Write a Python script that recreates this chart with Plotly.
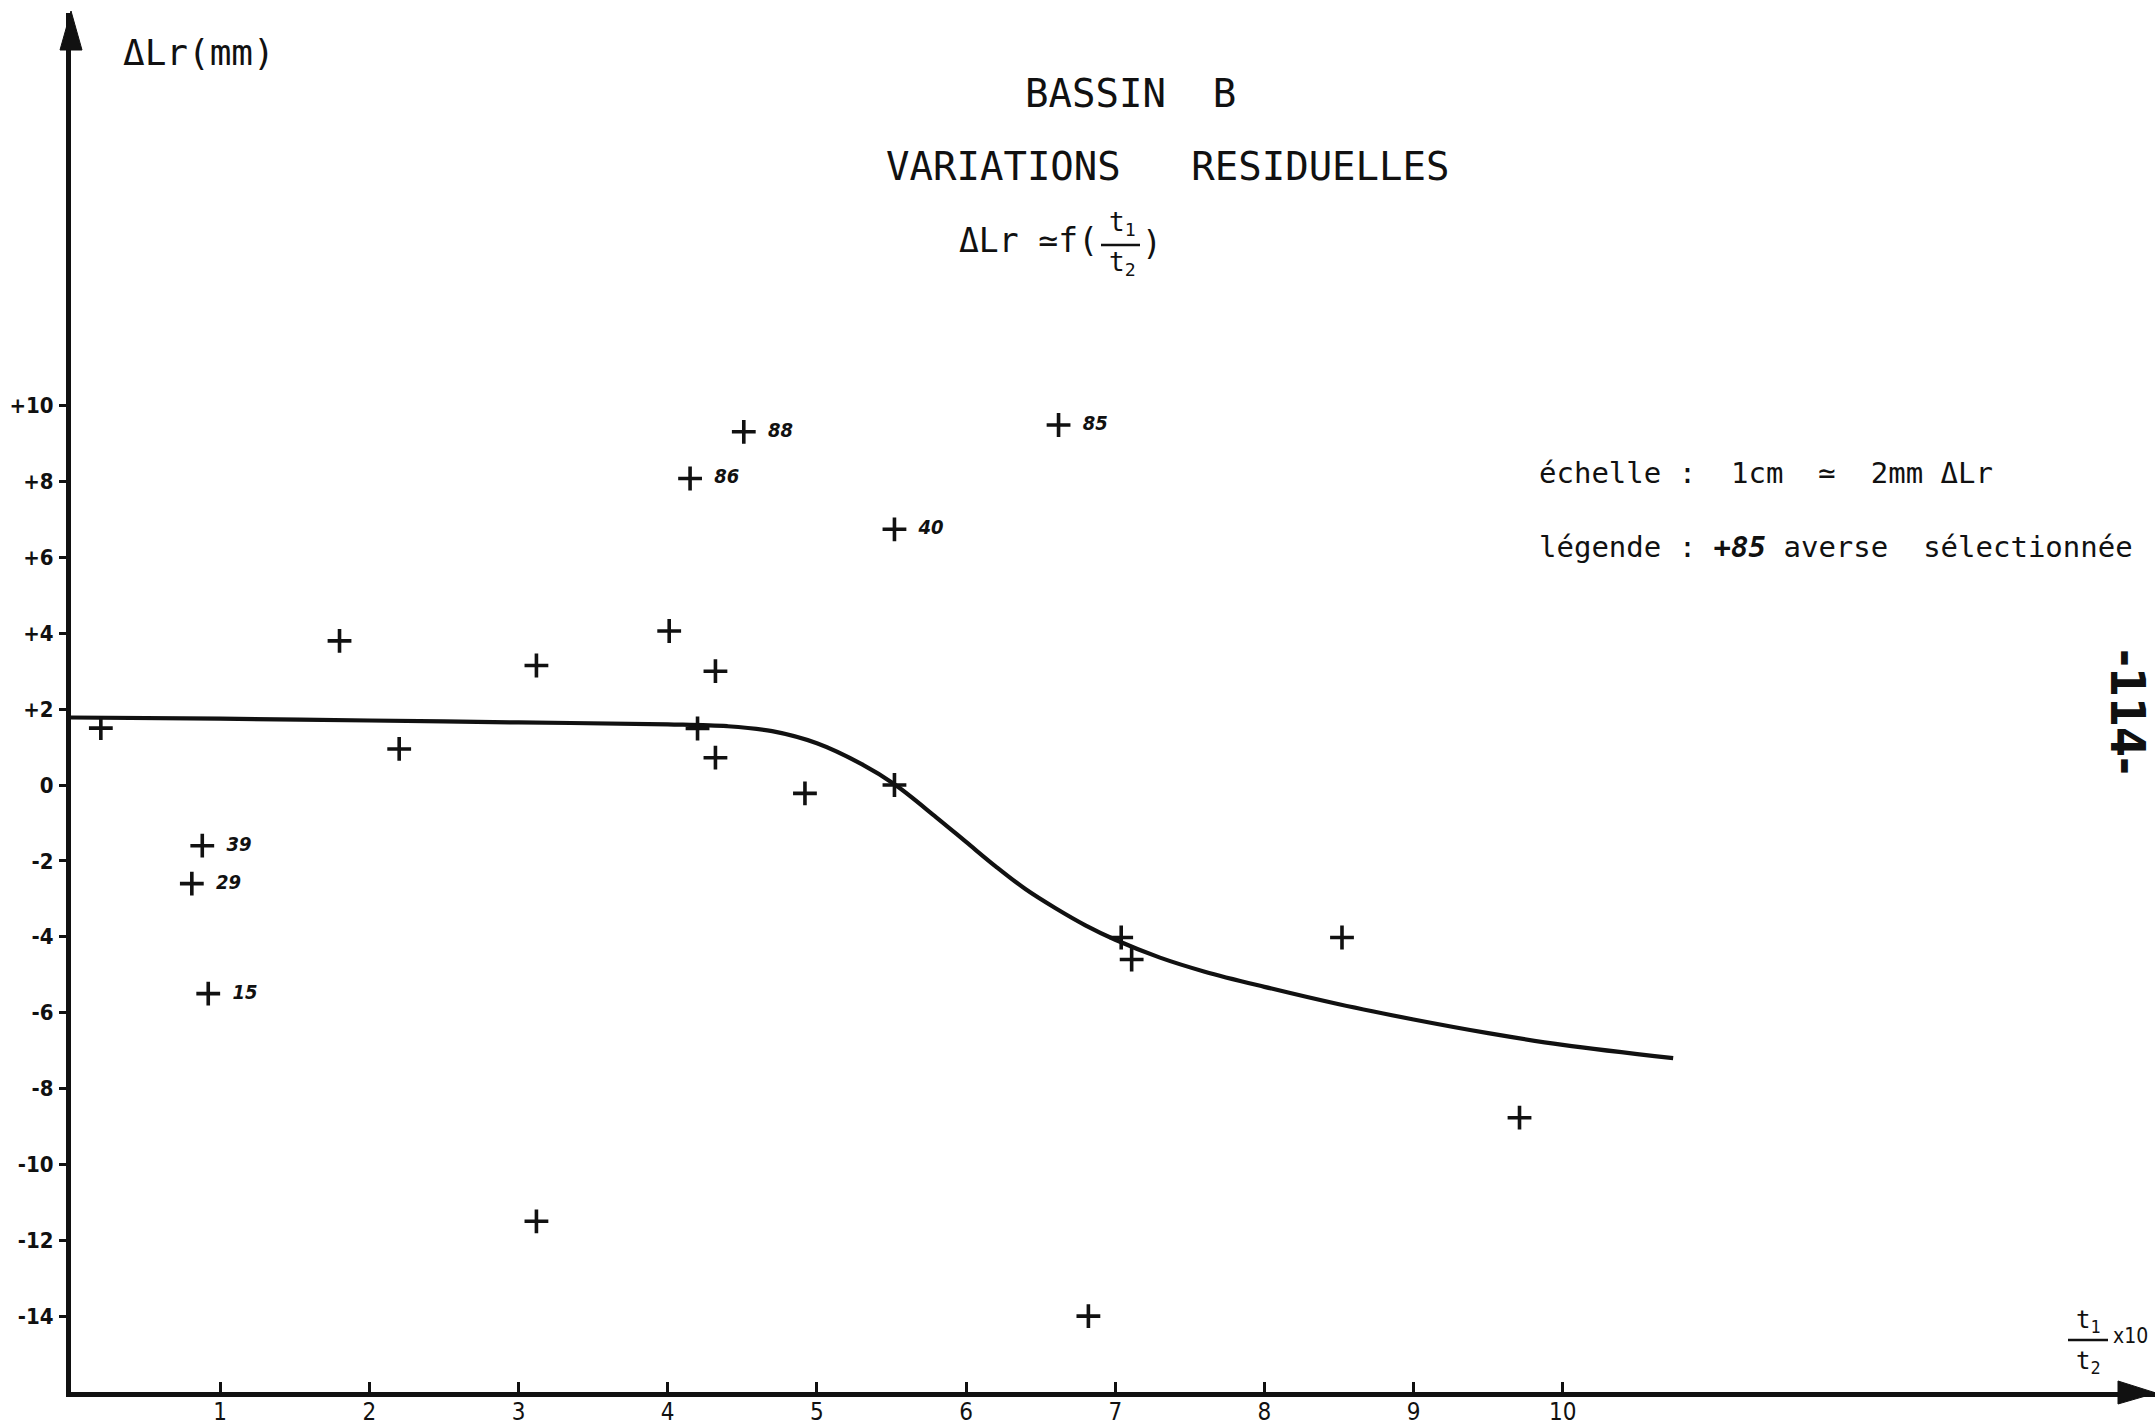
import plotly.graph_objects as go

# Residual variations, basin B: ΔLr (mm) against t1/t2 (x10)
pt_x = [0.2, 1.8, 2.2, 0.88, 0.81, 0.92, 3.12, 3.12, 4.01, 4.32, 4.2, 4.32,
        4.15, 4.51, 4.92, 5.52, 5.52, 6.62, 6.82, 7.04, 7.11, 8.52, 9.71]
pt_y = [1.5, 3.8, 0.95, -1.6, -2.6, -5.5, 3.15, -11.5, 4.06, 3.0, 1.49, 0.72,
        8.08, 9.31, -0.22, 0.0, 6.74, 9.49, -14.0, -4.02, -4.6, -4.02, -8.77]
pt_label = ["", "", "", "39", "29", "15", "", "", "", "", "", "",
            "86", "88", "", "", "40", "85", "", "", "", "", ""]

# hand-fitted trend curve
curve_x = [0, 1, 2, 3, 4, 4.4, 4.7, 5.0, 5.3, 5.52, 5.8, 6.0, 6.2, 6.4, 6.6,
           6.8, 7.0, 7.3, 7.6, 8.0, 8.5, 9.0, 9.5, 10.0, 10.74]
curve_y = [1.78, 1.75, 1.7, 1.65, 1.6, 1.55, 1.42, 1.1, 0.55, 0.02, -0.85,
           -1.5, -2.15, -2.75, -3.25, -3.7, -4.08, -4.55, -4.92, -5.32, -5.78,
           -6.18, -6.54, -6.85, -7.2]

y_ticks = [10, 8, 6, 4, 2, 0, -2, -4, -6, -8, -10, -12, -14]
y_tick_text = ["+10", "+8", "+6", "+4", "+2", "0", "-2", "-4", "-6", "-8",
               "-10", "-12", "-14"]
x_ticks = [1, 2, 3, 4, 5, 6, 7, 8, 9, 10]

W, H = 2155, 1427
ML, MR, MT, MB = 71, 0, 13, 35
X_RANGE = [0, 13.97]
Y_RANGE = [-16, 20.35]

def px(x):
    return (x - ML) / (W - ML - MR)

def py(y):
    return (H - MB - y) / (H - MT - MB)

INK = "#111111"
MONO = "DejaVu Sans Mono"
COND = "DejaVu Sans Condensed"

fig = go.Figure()

fig.add_trace(go.Scatter(
    x=curve_x, y=curve_y, mode="lines",
    line=dict(color=INK, width=4.2, shape="spline", smoothing=1.0),
    hoverinfo="skip", showlegend=False,
))

plus = dict(symbol="cross-thin", size=17, line=dict(color=INK, width=3.6))

plain = [i for i, t in enumerate(pt_label) if not t]
named = [i for i, t in enumerate(pt_label) if t]

fig.add_trace(go.Scatter(
    x=[pt_x[i] for i in plain], y=[pt_y[i] for i in plain],
    mode="markers", marker=plus, showlegend=False,
))
fig.add_trace(go.Scatter(
    x=[pt_x[i] for i in named], y=[pt_y[i] for i in named],
    mode="markers+text",
    text=["  " + pt_label[i] for i in named],
    textposition="middle right",
    textfont=dict(family=COND, size=20, color=INK, weight="bold", style="italic"),
    marker=plus, showlegend=False,
))

# axis arrowheads (page pixels)
fig.add_shape(type="path", xref="paper", yref="paper",
              path=f"M {px(60)} {py(50)} L {px(71)} {py(11)} L {px(82)} {py(50)} Z",
              fillcolor=INK, line=dict(color=INK, width=1))
fig.add_shape(type="path", xref="paper", yref="paper",
              path=f"M {px(2118)} {py(1381)} L {px(2156)} {py(1393)} L {px(2118)} {py(1404)} Z",
              fillcolor=INK, line=dict(color=INK, width=1))

ann = []

def text(x, y, s, size, family=MONO, anchor="center", yanchor="middle", angle=0, **kw):
    ann.append(dict(x=px(x), y=py(y), xref="paper", yref="paper", text=s,
                    showarrow=False, xanchor=anchor, yanchor=yanchor,
                    textangle=angle,
                    font=dict(family=family, size=size, color=INK, **kw)))

text(121, 52, "ΔLr(mm)", 36, anchor="left")
text(1130, 93, "BASSIN  B", 39)
text(1168, 166, "VARIATIONS   RESIDUELLES", 39)
text(1100, 241, "ΔLr ≃f(", 33, anchor="right")
text(1122, 223, "t<sub>1</sub>", 26)
text(1122, 263, "t<sub>2</sub>", 26)
text(1140, 243, ")", 33, anchor="left")
fig.add_shape(type="line", xref="paper", yref="paper",
              x0=px(1101), x1=px(1140), y0=py(245), y1=py(245),
              line=dict(color=INK, width=2.5))

text(1537, 473, "échelle :  1cm  ≃  2mm ΔLr", 29, anchor="left")
text(1537, 547, "légende : <b><i>+85</i></b> averse  sélectionnée", 29, anchor="left")

text(2088, 1321, "t<sub>1</sub>", 24)
text(2088, 1362, "t<sub>2</sub>", 24)
fig.add_shape(type="line", xref="paper", yref="paper",
              x0=px(2068), x1=px(2108), y0=py(1340), y1=py(1340),
              line=dict(color=INK, width=2.5))
text(2111, 1336, "x10", 21, family=COND, anchor="left")

text(2128, 712, "-114-", 48, family=COND, angle=90, weight="bold")

fig.update_layout(
    width=W, height=H,
    margin=dict(l=ML, r=MR, t=MT, b=MB, pad=0, autoexpand=False),
    paper_bgcolor="white", plot_bgcolor="white",
    annotations=ann,
    xaxis=dict(range=X_RANGE, tickvals=x_ticks, ticktext=[str(v) for v in x_ticks],
               ticks="inside", ticklen=10, tickwidth=3, tickcolor=INK,
               showline=True, linecolor=INK, linewidth=5, showgrid=False,
               zeroline=False, ticklabelstandoff=-6, automargin=False,
               tickfont=dict(family=COND, size=24, color=INK)),
    yaxis=dict(range=Y_RANGE, tickvals=y_ticks, ticktext=y_tick_text,
               ticks="outside", ticklen=7, tickwidth=3, tickcolor=INK,
               showline=True, linecolor=INK, linewidth=5, showgrid=False,
               zeroline=False, ticklabelstandoff=1, automargin=False,
               tickfont=dict(family=COND, size=22, color=INK, weight="bold")),
)

fig.write_html("out.html")
